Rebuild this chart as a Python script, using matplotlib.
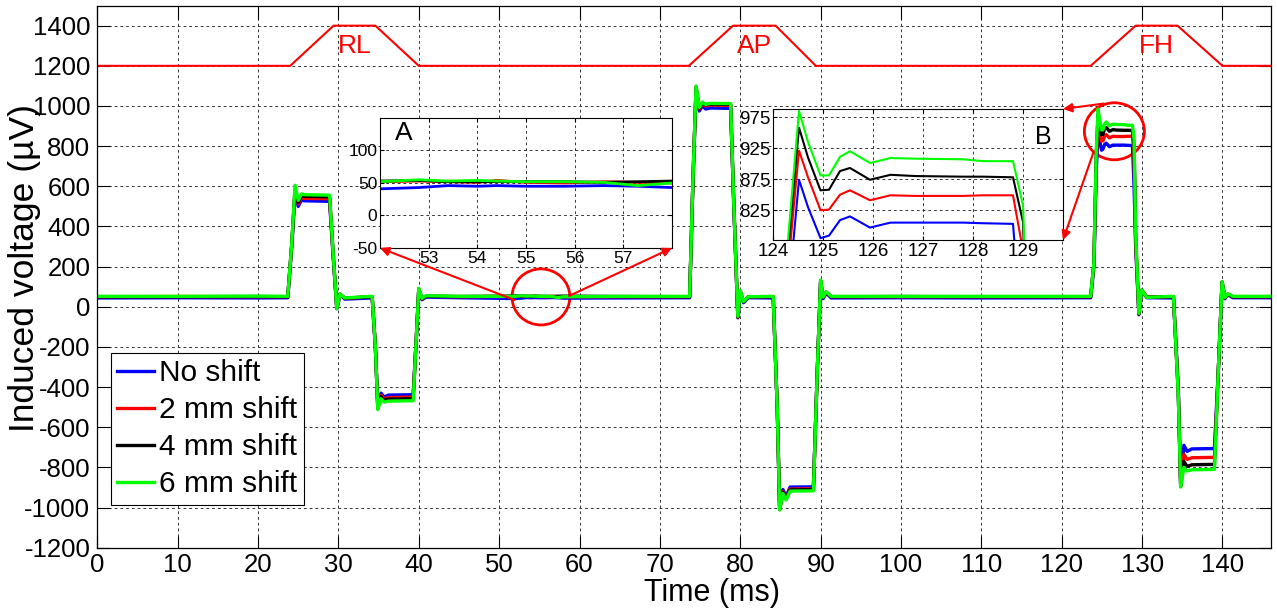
import matplotlib
matplotlib.use('Agg')
import matplotlib.pyplot as plt
from matplotlib.patches import Ellipse, ConnectionPatch

plt.rcParams['font.family'] = ['Liberation Sans', 'DejaVu Sans']
plt.rcParams['axes.unicode_minus'] = False

# time knots (ms), shared by all four traces
t_ms = [0, 10, 20, 23.7,
        24.2, 24.6, 25.0, 25.4, 25.8, 28.9,
        29.3, 29.8, 30.2, 30.8, 34.2,
        34.6, 34.9, 35.3, 35.7, 36.2, 39.3,
        39.7, 40.0, 40.4, 40.9, 45, 52, 52.8, 53.4, 54.0, 54.4, 55.0, 55.8, 56.6, 57.3, 58.0, 65, 73.7,
        74.1, 74.5, 74.9, 75.3, 75.7, 76.3, 78.8,
        79.2, 79.7, 80.0, 80.4, 81.0, 84.1,
        84.6, 84.9, 85.3, 85.7, 86.2, 89.1,
        89.6, 90.0, 90.3, 90.7, 91.3, 100, 110, 123.6,
        124.0, 124.3, 124.52, 124.7, 124.95, 125.12, 125.34, 125.54, 125.94, 126.35, 126.85, 127.8, 128.2, 128.8,
        129.0, 129.2, 129.6, 129.95, 130.6, 133.9,
        134.5, 134.8, 135.2, 135.6, 136.2, 139.0,
        139.5, 139.95, 140.3, 140.7, 141.3, 146]

no_shift = [44, 45, 44, 45,
            300, 565, 500, 530, 528, 525,
            280, -10, 60, 38, 44,
            -200, -495, -430, -450, -440, -438,
            -150, 85, 35, 48, 45, 41, 43, 46, 45, 46, 45, 45, 46, 45, 43, 44, 45,
            600, 1080, 975, 1000, 985, 990, 988,
            500, -55, 70, 20, 45, 44,
            -500, -1005, -910, -945, -898, -897,
            -300, 125, 40, 68, 44, 45, 44, 45,
            200, 680, 874, 830, 780, 784, 809, 815, 797, 805, 805, 805, 804, 803,
            600, 300, -40, 80, 45, 44,
            -400, -890, -690, -720, -708, -706,
            -300, 120, 40, 60, 45, 45]

shift_2mm = [50, 51, 50, 50,
             310, 575, 512, 542, 540, 538,
             285, -8, 62, 42, 50,
             -200, -500, -440, -460, -452, -450,
             -150, 88, 38, 52, 50, 52, 53, 52, 51, 54, 51, 50, 52, 51, 50, 50, 50,
             610, 1090, 985, 1010, 1000, 1005, 1003,
             505, -52, 75, 24, 50, 50,
             -500, -1010, -920, -955, -908, -907,
             -300, 128, 45, 72, 50, 50, 50, 50,
             210, 730, 921, 878, 825, 826, 850, 857, 841, 849, 848, 848, 849, 849,
             760, 320, -36, 82, 48, 50,
             -420, -893, -735, -760, -752, -750,
             -300, 122, 44, 62, 50, 50]

shift_4mm = [50, 50, 51, 50,
             315, 585, 520, 552, 550, 548,
             290, -8, 63, 43, 50,
             -200, -505, -448, -466, -460, -458,
             -150, 90, 40, 53, 51, 53, 54, 52, 52, 52, 52, 52, 51, 52, 53, 51, 50,
             615, 1095, 990, 1015, 1005, 1010, 1008,
             508, -50, 78, 25, 50, 50,
             -500, -1010, -925, -958, -912, -911,
             -300, 130, 46, 73, 50, 51, 50, 50,
             215, 760, 958, 910, 857, 858, 888, 893, 874, 882, 880, 879, 879, 878,
             806, 340, -35, 83, 48, 50,
             -430, -895, -770, -795, -787, -785,
             -300, 124, 45, 63, 50, 50]

shift_6mm = [52, 52, 53, 52,
             320, 605, 530, 562, 558, 556,
             295, -10, 64, 44, 52,
             -200, -512, -458, -475, -470, -468,
             -150, 92, 42, 55, 52, 52, 55, 53, 54, 53, 52, 52, 51, 46, 50, 52, 52,
             620, 1100, 993, 1020, 1008, 1013, 1012,
             510, -48, 82, 26, 50, 52,
             -500, -1012, -930, -962, -918, -917,
             -300, 133, 48, 75, 52, 52, 52, 52,
             220, 777, 985, 935, 881, 881, 911, 920, 901, 909, 908, 907, 904, 904,
             833, 360, -33, 84, 47, 52,
             -440, -898, -800, -818, -812, -810,
             -300, 125, 46, 65, 52, 52]

series = [(no_shift, 'No shift', (0, 0, 1)),
          (shift_2mm, '2 mm shift', (1, 0, 0)),
          (shift_4mm, '4 mm shift', (0, 0, 0)),
          (shift_6mm, '6 mm shift', (0, 1, 0))]

# gradient waveform sketch at the top
grad_t = [0, 24, 29.4, 34.6, 40, 73.6, 79.1, 84.4, 89.4, 123.6, 129.2, 134.4, 140, 146]
grad_v = [1200, 1200, 1400, 1400, 1200, 1200, 1400, 1400, 1200, 1200, 1400, 1400, 1200, 1200]
grad_names = ['RL', 'AP', 'FH']
grad_name_t = [32.0, 81.8, 131.8]

grid_kw = dict(color='0.2', linestyle=(0, (2.8, 3.1)), linewidth=0.7)

W, H = 1277, 609
fig = plt.figure(figsize=(W / 100, H / 100), dpi=100)
ax = fig.add_axes([97.3 / W, 1 - 547.7 / H, 1173.4 / W, 542.1 / H])

ax.plot(grad_t, grad_v, color='red', lw=1.5)
for name, tx in zip(grad_names, grad_name_t):
    ax.text(tx, 1297, name, color='red', fontsize=19, ha='center', va='center')

lines = []
for vals, lab, col in series:
    ln, = ax.plot(t_ms, vals, color=col, lw=2.4, label=lab)
    lines.append(ln)

ax.set_xlim(0, 146)
ax.set_ylim(-1200, 1500)
ax.set_xticks(range(0, 141, 10))
ax.set_yticks(range(-1200, 1401, 200))
ax.grid(True, **grid_kw)
ax.set_axisbelow(True)
ax.tick_params(direction='in', top=True, right=True, length=9, width=0.8, labelsize=18.5)
ax.tick_params(axis='y', pad=5)
ax.tick_params(axis='x', pad=4)
for s in ax.spines.values():
    s.set_linewidth(0.9)

ax.set_xlabel('Time (ms)', fontsize=22)
ax.set_ylabel('Induced voltage (\u00b5V)', fontsize=25.5)
ax.xaxis.set_label_coords((712 - 97.3) / 1173.4, (547.7 - 578) / 542.1)
ax.yaxis.set_label_coords((41 - 97.3) / 1173.4, (547.7 - 268) / 542.1)

leg = ax.legend(handles=lines, loc='upper left',
                bbox_to_anchor=(110.7 / W, 1 - 352.7 / H), bbox_transform=fig.transFigure,
                borderaxespad=0, fontsize=21.5, handlelength=1.24, handletextpad=0.17,
                labelspacing=0.3, borderpad=0.22, fancybox=False, framealpha=1,
                edgecolor='black')
leg.get_frame().set_linewidth(0.8)

# highlight circles
ax.add_patch(Ellipse((55.2, 49), 7.2, 279, fill=False, edgecolor='red', lw=2))
ax.add_patch(Ellipse((126.55, 874), 7.47, 284, fill=False, edgecolor='red', lw=2))

# inset A
axA = fig.add_axes([380 / W, 1 - 248 / H, 292 / W, 130 / H])
for vals, lab, col in series:
    axA.plot(t_ms, vals, color=col, lw=2)
axA.set_xlim(52, 58)
axA.set_ylim(-50, 150)
axA.set_xticks([53, 54, 55, 56, 57])
axA.set_yticks([-50, 0, 50, 100])
axA.grid(True, **grid_kw)
axA.tick_params(direction='in', top=True, right=True, length=3, labelsize=12.5, pad=2)
axA.text(0.082, 0.888, 'A', transform=axA.transAxes, fontsize=19, ha='center', va='center')

# inset B
axB = fig.add_axes([773 / W, 1 - 240 / H, 290 / W, 131 / H])
for vals, lab, col in series:
    axB.plot(t_ms, vals, color=col, lw=1.5)
axB.set_xlim(124, 129.8)
axB.set_ylim(777, 988)
axB.set_xticks([124, 125, 126, 127, 128, 129])
axB.set_yticks([825, 875, 925, 975])
axB.grid(True, **grid_kw)
axB.tick_params(direction='in', top=True, right=True, length=3, labelsize=13.5, pad=2)
axB.text(0.931, 0.79, 'B', transform=axB.transAxes, fontsize=18, ha='center', va='center')

# arrows from circles to insets
arrows = [((51.9, 34), axA, (0, 0)),
          ((58.7, 54), axA, (1, 0)),
          ((125.2, 1012), axB, (1, 1)),
          ((123.97, 772), axB, (1, 0))]
for start, target, corner in arrows:
    cp = ConnectionPatch(xyA=start, coordsA=ax.transData, xyB=corner, coordsB=target.transAxes,
                         arrowstyle='-|>', color='red', lw=1.5, mutation_scale=13,
                         shrinkA=0, shrinkB=0)
    fig.add_artist(cp)

fig.savefig('out.png', dpi=100)
